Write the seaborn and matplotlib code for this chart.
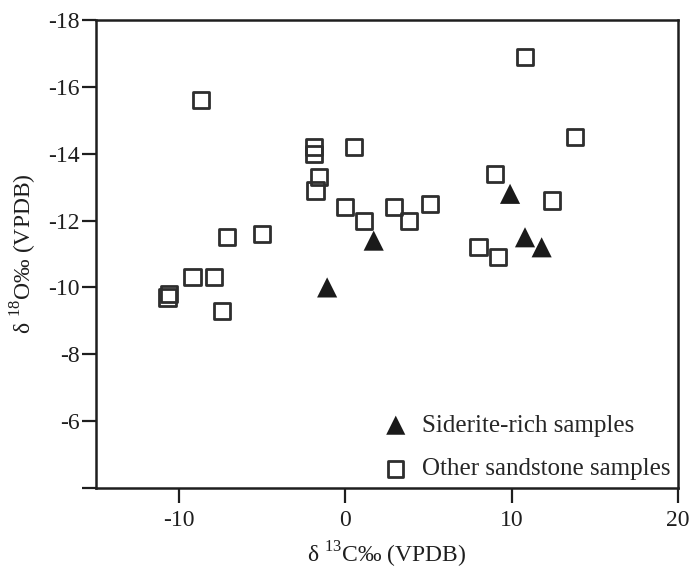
import matplotlib
matplotlib.use("Agg")
import matplotlib.pyplot as plt
import seaborn as sns
import pandas as pd

# siderite-rich samples (filled triangles)
siderite_c13 = [1.7, -1.1, 9.9, 10.8, 11.8]
siderite_o18 = [-11.4, -10.0, -12.8, -11.5, -11.2]

# other sandstone samples (open squares)
other_c13 = [-8.7, -1.9, -1.9, 0.5, -1.6, -1.8, 0.0, 1.1, 2.9, 3.8,
             -7.1, -5.0, -9.2, -7.9, -10.6, -10.7, -7.4,
             10.8, 13.8, 9.0, 12.4, 5.1, 8.0, 9.2]
other_o18 = [-15.6, -14.2, -14.0, -14.2, -13.3, -12.9, -12.4, -12.0, -12.4, -12.0,
             -11.5, -11.6, -10.3, -10.3, -9.8, -9.7, -9.3,
             -16.9, -14.5, -13.4, -12.6, -12.5, -11.2, -10.9]

x_ticks = [-10, 0, 10, 20]
y_ticks = [-4, -6, -8, -10, -12, -14, -16, -18]
y_tick_labels = ["", "-6", "-8", "-10", "-12", "-14", "-16", "-18"]

sns.set_style("white")
plt.rcParams["font.family"] = ["Liberation Serif", "DejaVu Serif"]
plt.rcParams["mathtext.fontset"] = "custom"
plt.rcParams["mathtext.rm"] = "Liberation Serif"
plt.rcParams["axes.unicode_minus"] = False

df_sid = pd.DataFrame({"c13": siderite_c13, "o18": siderite_o18})
df_oth = pd.DataFrame({"c13": other_c13, "o18": other_o18})

fig = plt.figure(figsize=(6.9, 5.7), dpi=100)
ax = fig.add_axes([96 / 690, 1 - 488 / 570, (678 - 96) / 690, (488 - 20) / 570])

sns.scatterplot(data=df_sid, x="c13", y="o18", marker="^", s=210,
                color="#1a1a1a", edgecolor="none", label="Siderite-rich samples", ax=ax)
sns.scatterplot(data=df_oth, x="c13", y="o18", marker="s", s=135,
                facecolor="none", edgecolor="#2e2e2e", linewidth=2.0,
                label="Other sandstone samples", ax=ax)

ax.set_xlim(-15, 20)
ax.set_ylim(-4, -18)
ax.set_xticks(x_ticks)
ax.set_xticklabels([str(t) for t in x_ticks])
ax.set_yticks(y_ticks)
ax.set_yticklabels(y_tick_labels)

for sp in ax.spines.values():
    sp.set_linewidth(1.8)
    sp.set_color("#1e1e1e")

ax.tick_params(axis="x", direction="out", length=11, width=1.6, pad=5,
               labelsize=17, colors="#1e1e1e", bottom=True)
ax.tick_params(axis="y", direction="out", length=10, width=1.6, pad=2,
               labelsize=17, colors="#1e1e1e", left=True)

ax.set_xlabel(r"δ $^{\mathrm{13}}$C‰ (VPDB)", fontsize=17, color="#1e1e1e", labelpad=6)
ax.set_ylabel(r"δ $^{\mathrm{18}}$O‰ (VPDB)", fontsize=17, color="#1e1e1e", labelpad=6)

leg = ax.legend(loc="lower right", frameon=False, fontsize=18,
                handlelength=1.0, handletextpad=0.55, labelspacing=0.85,
                borderaxespad=0.0, borderpad=0.3, markerscale=0.95)

fig.savefig("out.png", dpi=100)
